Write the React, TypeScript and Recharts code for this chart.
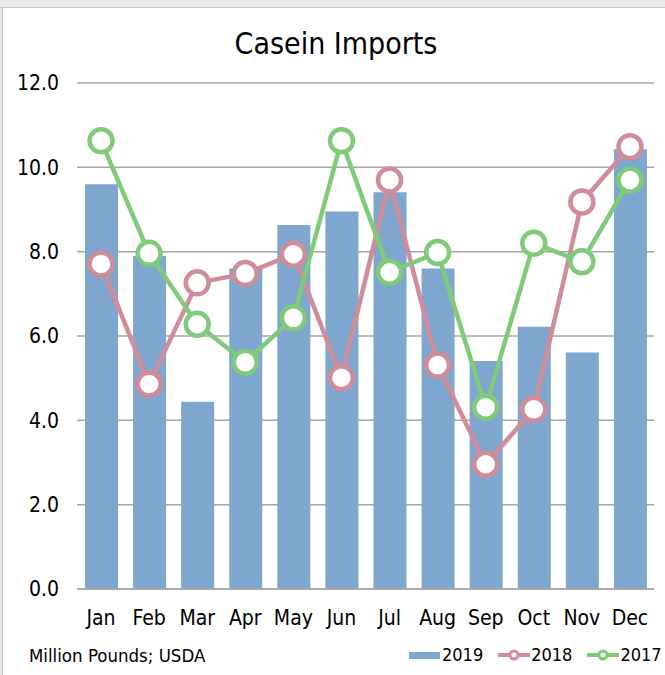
import React from "react";
import { Bar, CartesianGrid, ComposedChart, Line, XAxis, YAxis } from "recharts";

const MONTHS = ["Jan", "Feb", "Mar", "Apr", "May", "Jun", "Jul", "Aug", "Sep", "Oct", "Nov", "Dec"];
const Y2019 = [9.6, 7.9, 4.44, 7.6, 8.63, 8.95, 9.41, 7.6, 5.41, 6.22, 5.61, 10.43];
const Y2018 = [7.71, 4.86, 7.26, 7.48, 7.94, 5.01, 9.7, 5.31, 2.96, 4.26, 9.18, 10.49];
const Y2017 = [10.63, 7.96, 6.28, 5.38, 6.43, 10.63, 7.51, 7.98, 4.31, 8.2, 7.76, 9.7];
const Y_TICKS = [0, 2, 4, 6, 8, 10, 12];

const BLUE = "#7EA6CE";
const PINK = "#D08C98";
const GREEN = "#7FCB7A";
const FONT = "'DejaVu Sans Condensed', 'DejaVu Sans', sans-serif";

const data = MONTHS.map((m, i) => ({ month: m, y2019: Y2019[i], y2018: Y2018[i], y2017: Y2017[i] }));

function LegendBox() {
  const item = (color: string, label: string, line: boolean) => (
    <span style={{ display: "inline-flex", alignItems: "center", marginLeft: line ? 15 : 0 }}>
      <svg width={32} height={14}>
        {line ? (
          <>
            <line x1={0} y1={7} x2={32} y2={7} stroke={color} strokeWidth={4} />
            <circle cx={16} cy={7} r={4} fill="#fff" stroke={color} strokeWidth={3} />
          </>
        ) : (
          <rect x={0} y={4} width={31} height={7} fill={color} />
        )}
      </svg>
      <span style={{ marginLeft: 1 }}>{label}</span>
    </span>
  );
  return (
    <div style={{ display: "flex", fontFamily: FONT, fontSize: 18, color: "#000" }}>
      {item(BLUE, "2019", false)}
      {item(PINK, "2018", true)}
      {item(GREEN, "2017", true)}
    </div>
  );
}

export default function App() {
  return (
    <div style={{ position: "absolute", left: 0, top: 0, width: 665, height: 675, background: "#fff", overflow: "hidden" }}>
      <div style={{ position: "absolute", left: 0, top: 0, width: 665, height: 7, background: "#e9e9e9", borderBottom: "1px solid #c8c8c8" }} />
      <div style={{ position: "absolute", left: 0, top: 8, width: 2, height: 667, background: "#e9e9e9", borderRight: "1px solid #c8c8c8" }} />
      <ComposedChart width={665} height={675} data={data} margin={{ top: 83, right: 11, bottom: 56, left: 0 }} style={{ position: "absolute", left: 0, top: 0 }}>
        <CartesianGrid vertical={false} stroke="#a6a6a6" strokeWidth={1.5} />
        <XAxis
          dataKey="month"
          height={30}
          axisLine={{ stroke: "#a6a6a6", strokeWidth: 1.5 }}
          tickLine={false}
          tickSize={0}
          tickMargin={21}
          interval={0}
          tick={{ fontFamily: FONT, fontSize: 21, fill: "#000" }}
        />
        <YAxis
          width={77}
          domain={[0, 12]}
          ticks={Y_TICKS}
          axisLine={false}
          tickLine={false}
          tickSize={0}
          tickMargin={18}
          tickFormatter={(v: number) => v.toFixed(1)}
          tick={{ fontFamily: FONT, fontSize: 21, fill: "#000" }}
        />
        <Bar dataKey="y2019" fill={BLUE} barSize={33} isAnimationActive={false} />
        <Line
          dataKey="y2018"
          stroke={PINK}
          strokeWidth={4.5}
          dot={{ r: 11.5, fill: "#fff", stroke: PINK, strokeWidth: 4.5 }}
          activeDot={false}
          isAnimationActive={false}
        />
        <Line
          dataKey="y2017"
          stroke={GREEN}
          strokeWidth={4.5}
          dot={{ r: 11.5, fill: "#fff", stroke: GREEN, strokeWidth: 4.5 }}
          activeDot={false}
          isAnimationActive={false}
        />
      </ComposedChart>
      <div style={{ position: "absolute", left: 0, top: 26, width: 672, textAlign: "center", fontFamily: FONT, fontSize: 30, color: "#000" }}>
        Casein Imports
      </div>
      <div style={{ position: "absolute", left: 29, top: 645, fontFamily: FONT, fontSize: 18.5, color: "#000" }}>
        Million Pounds; USDA
      </div>
      <div style={{ position: "absolute", left: 409, top: 644 }}>
        <LegendBox />
      </div>
    </div>
  );
}
